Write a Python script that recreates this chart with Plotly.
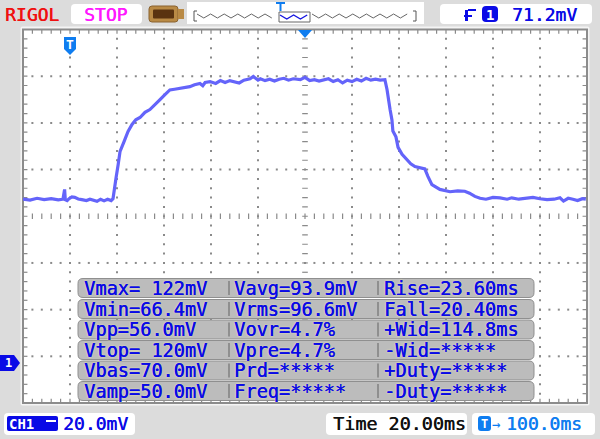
import plotly.graph_objects as go

W, H = 600, 439
L, R, T, B = 23.0, 587.0, 29.5, 403.0

# waveform
time_ms = [-20,-17,-14,-11,-8,-5,-3,-2.6,-2.3,-2,-1.2,-0.4,0.8,2,3.5,5,7,8.5,10,11.5,13,14.5,16,17.5,18.3,18.8,19.6,20.5,21.3,23,24.7,26.4,28,29.8,31.9,34,36,38.3,40.4,42.5,44.5,46.8,49,51,53,55.3,56.5,57.5,59.6,62,64,66,68,70,72,74,76.6,78,80,81,83,85,87,89,91,93,95,98,100,102,104,106,108,110,112,114,116,118,120,122,124,126,128,130,132,134,134.9,135.4,136.2,137,137.4,138.7,139.6,141.3,143.8,145,146.8,149,151,152.3,154,157.4,159,161.7,165,168,170,172.3,174.5,177,180,183,186,188,191,194,197,200,203,206,208.5,210,212,214,216,218,219.5]
volt_mv = [69.8,69.4,70.2,69.6,70,69.5,69.8,74,74,69.6,69.2,70,70.8,70.6,69.9,69.6,69.2,69.8,69.4,68.9,69.8,69.1,69.8,69.2,70,74,79,84.7,90.3,94.5,98.8,101.8,103.8,104.8,107,108.2,110.4,112.5,114.6,116.6,116.9,117.2,117.8,118,118.8,119.4,118.4,119.8,120.2,119.4,120.6,119.8,120.6,120.2,119.6,120.8,121.4,122.4,120.8,121.4,120.6,121.2,120.4,121.2,121.6,120.8,121.4,121,122,120.6,121,120.4,120.8,121.4,120.2,121,119.6,120.8,120.2,121.2,120.4,121.6,120.8,121.2,120.8,121,116.8,112.5,108.2,103.8,99,96.5,92,89,86,85,83.8,83.2,82.8,79.6,76,74,73.6,73,73.4,73.2,72.4,71,70.2,69.8,70.6,70.4,69.8,70.4,69.8,70.2,70.6,70,69.6,69.8,70.4,69,70.2,69.8,69.2,70,69.8]

measure_col1 = ["Vmax= 122mV","Vmin=66.4mV","Vpp=56.0mV","Vtop= 120mV","Vbas=70.0mV","Vamp=50.0mV"]
measure_col2 = ["Vavg=93.9mV","Vrms=96.6mV","Vovr=4.7%","Vpre=4.7%","Prd=*****","Freq=*****"]
measure_col3 = ["Rise=23.60ms","Fall=20.40ms","+Wid=114.8ms","-Wid=*****","+Duty=*****","-Duty=*****"]
row_y_px = [288, 309, 329.5, 350, 370.5, 391]

BG = "#dcdcdc"; BLUE = "#0a0ae6"; SKY = "#0f7df0"; GRIDC = "#8a8a8a"; PILL = "#bcbcbc"
MONO = "DejaVu Sans Mono"

X = lambda p: p / W
Y = lambda p: 1 - p / H

def rrect(x0, y0, x1, y1, r=4):
    return (f"M{X(x0+r)},{Y(y0)} L{X(x1-r)},{Y(y0)} Q{X(x1)},{Y(y0)} {X(x1)},{Y(y0+r)} "
            f"L{X(x1)},{Y(y1-r)} Q{X(x1)},{Y(y1)} {X(x1-r)},{Y(y1)} L{X(x0+r)},{Y(y1)} "
            f"Q{X(x0)},{Y(y1)} {X(x0)},{Y(y1-r)} L{X(x0)},{Y(y0+r)} Q{X(x0)},{Y(y0)} {X(x0+r)},{Y(y0)} Z")

def poly(pts, close=True):
    s = "M" + " L".join(f"{X(a)},{Y(b)}" for a, b in pts)
    return s + (" Z" if close else "")

shapes = []
def box(x0, y0, x1, y1, fill, r=4, line=None, lw=1, layer="above"):
    shapes.append(dict(type="path", path=rrect(x0, y0, x1, y1, r), xref="paper", yref="paper",
                       fillcolor=fill, line=dict(color=line or fill, width=lw if line else 0), layer=layer))
def shp(pts, fill=None, line=None, lw=1, close=True):
    d = dict(type="path", path=poly(pts, close), xref="paper", yref="paper",
             line=dict(color=line or fill, width=lw if line else 0))
    if fill: d["fillcolor"] = fill
    shapes.append(d)

anns = []
def txt(x, y, s, color, size=18, anchor="left", shadow=None, bold=False):
    f = dict(family=MONO, size=size, color=color, weight="bold" if bold else "normal")
    if shadow: f["shadow"] = shadow
    anns.append(dict(x=X(x), y=Y(y), xref="paper", yref="paper", text=s, showarrow=False,
                     xanchor=anchor, yanchor="middle", font=f, borderpad=0))

def fat(c):
    return f"0.5px 0 0 {c}"

# outer frame
box(20.5, 26.5, 589.5, 405.5, "#f4f4f4", r=2, layer="below")
box(L, T, R, B, "#ffffff", r=0, line="#8c8c8c", lw=2, layer="below")

# graticule
gx, gy = [], []
for k in range(1, 12):
    xv = -20 + 20 * k
    for j in range(1, 40):
        if xv != 100:
            gx.append(xv); gy.append(-17.5 + 4 * j)
for k in range(1, 8):
    yv = -17.5 + 20 * k
    for j in range(1, 60):
        if yv != 62.5:
            gx.append(-20 + 4 * j); gy.append(yv)
tx1 = [100] * 39 ; ty1 = [-17.5 + 4 * j for j in range(1, 40)]
for ex in (-19.3, 219.3):
    tx1 += [ex] * 39; ty1 += [-17.5 + 4 * j for j in range(1, 40)]
tx2 = [-20 + 4 * j for j in range(1, 60)] * 3
ty2 = [62.5] * 59 + [-16.9] * 59 + [141.9] * 59

fig = go.Figure()
fig.add_trace(go.Scatter(x=gx, y=gy, mode="markers", hoverinfo="skip",
                         marker=dict(symbol="square", size=2, color=GRIDC, line=dict(width=0))))
fig.add_trace(go.Scatter(x=tx1, y=ty1, mode="markers", hoverinfo="skip",
                         marker=dict(symbol="line-ew", size=4, line=dict(width=1.2, color=GRIDC))))
fig.add_trace(go.Scatter(x=tx2, y=ty2, mode="markers", hoverinfo="skip",
                         marker=dict(symbol="line-ns", size=4, line=dict(width=1.2, color=GRIDC))))
fig.add_trace(go.Scatter(x=time_ms, y=volt_mv, mode="lines", hoverinfo="skip",
                         line=dict(color="#6464fa", width=3.2, shape="linear")))

# header
txt(4, 14.5, "RIGOL", "#f01010", 18, shadow=fat("#f01010"))
box(71, 4, 142, 24, "#ffffff")
txt(83, 14.5, "STOP", "#ff18ff", 18, shadow=fat("#ff18ff"))
# battery icon
box(149, 6, 178, 22, "#b98a45", r=3, line="#8a6330", lw=1)
shp([(178, 9), (184, 9), (184, 19), (178, 19)], fill="#b98a45")
box(153, 9.5, 174, 18.5, "#5a3310", r=1)
# memory bar
shapes.append(dict(type="rect", xref="paper", yref="paper", x0=X(187), x1=X(424), y0=Y(2), y1=Y(24),
                   fillcolor="#ffffff", line=dict(width=0)))
def wig(x0, x1, yc):
    pts, i, x = [], 0, x0
    while x <= x1:
        pts.append((x, yc + (2 if i % 2 else -2)))
        x += 6.8; i += 1
    return pts
shp(wig(197, 277, 16), line="#666666", lw=1, close=False)
shp(wig(312, 412, 16), line="#666666", lw=1, close=False)
shp([(279, 12), (310, 12), (310, 22), (279, 22)], line="#666666", lw=1)
shp(wig(280, 309, 17), line="#1515e0", lw=1.4, close=False)
shp([(197, 11), (194, 11), (194, 21), (197, 21)], line="#555555", lw=1, close=False)
shp([(413, 11), (416, 11), (416, 21), (413, 21)], line="#555555", lw=1, close=False)
shp([(276, 3), (285, 3)], line=SKY, lw=2, close=False)
shp([(280.5, 3), (280.5, 11)], line=SKY, lw=2, close=False)
# trigger pill
box(440, 4, 592, 24, "#ffffff")
shp([(461, 21), (468, 21), (468, 10), (465, 10), (465, 21)], fill=BLUE)
shp([(464, 15), (472, 15), (472, 17), (464, 17)], fill=BLUE)
shp([(468, 9), (476, 9), (476, 11), (468, 11)], fill=BLUE)
box(482, 6, 498, 22, BLUE, r=4)
txt(490, 14.5, "1", "#ffffff", 14, anchor="center", bold=True)
txt(511, 14.5, "71.2mV", BLUE, 18, shadow=fat(BLUE))

# trigger markers
shp([(64, 37), (76, 37), (76, 49), (70, 55), (64, 49)], fill=SKY)
txt(70, 44, "T", "#ffffff", 13, anchor="center", bold=True)
shp([(298, 30), (312, 30), (305, 38)], fill=SKY)
shp([(0, 355), (14, 355), (20, 363), (14, 371), (0, 371)], fill=BLUE)
txt(8, 363, "1", "#ffffff", 12, anchor="center", bold=True)

# measurement table
HALO = "0.5px 0 0 #0a0ae6, 0 0 2px #fff8b0"
for i, yc in enumerate(row_y_px):
    box(78, yc - 9.5, 534, yc + 9.5, PILL, r=5, line="#8f8f8f", lw=1)
    for xd in (229, 378):
        shp([(xd, yc - 7), (xd, yc + 7)], line="#808080", lw=1.5, close=False)
    txt(83, yc, measure_col1[i], BLUE, 18.6, shadow=HALO)
    txt(233, yc, measure_col2[i], BLUE, 18.6, shadow=HALO)
    txt(383, yc, measure_col3[i], BLUE, 18.6, shadow=HALO)

# footer
box(4, 413, 135, 435, "#ffffff")
box(7, 416, 58, 431, BLUE, r=2)
txt(8, 423.5, "CH1", "#ffffff", 14, bold=True)
shp([(46, 420), (56, 420), (56, 422), (46, 422)], fill="#ffffff")
txt(62, 423.5, "20.0mV", BLUE, 18, shadow=fat(BLUE))
box(326, 413, 467, 435, "#ffffff")
txt(332, 423.5, "Time 20.00ms", "#111111", 18.4, shadow=fat("#111111"))
box(472, 413, 595, 435, "#ffffff")
box(478, 416, 491, 431, SKY, r=3)
txt(484.5, 423.5, "T", "#ffffff", 12, anchor="center", bold=True)
txt(491, 423.5, "→", SKY, 14)
txt(505, 423.5, "100.0ms", SKY, 18, shadow=fat(SKY))

fig.update_layout(
    width=W, height=H, autosize=False, margin=dict(l=0, r=0, t=0, b=0),
    paper_bgcolor=BG, plot_bgcolor="rgba(0,0,0,0)", showlegend=False,
    xaxis=dict(domain=[L / W, R / W], range=[-20, 220], visible=False, fixedrange=True),
    yaxis=dict(domain=[1 - B / H, 1 - T / H], range=[-17.5, 142.5], visible=False, fixedrange=True),
    shapes=shapes, annotations=anns,
)
fig.write_html("out.html", config=dict(displayModeBar=False),
               post_script="document.body.style.margin='0';document.body.style.overflow='hidden';")
